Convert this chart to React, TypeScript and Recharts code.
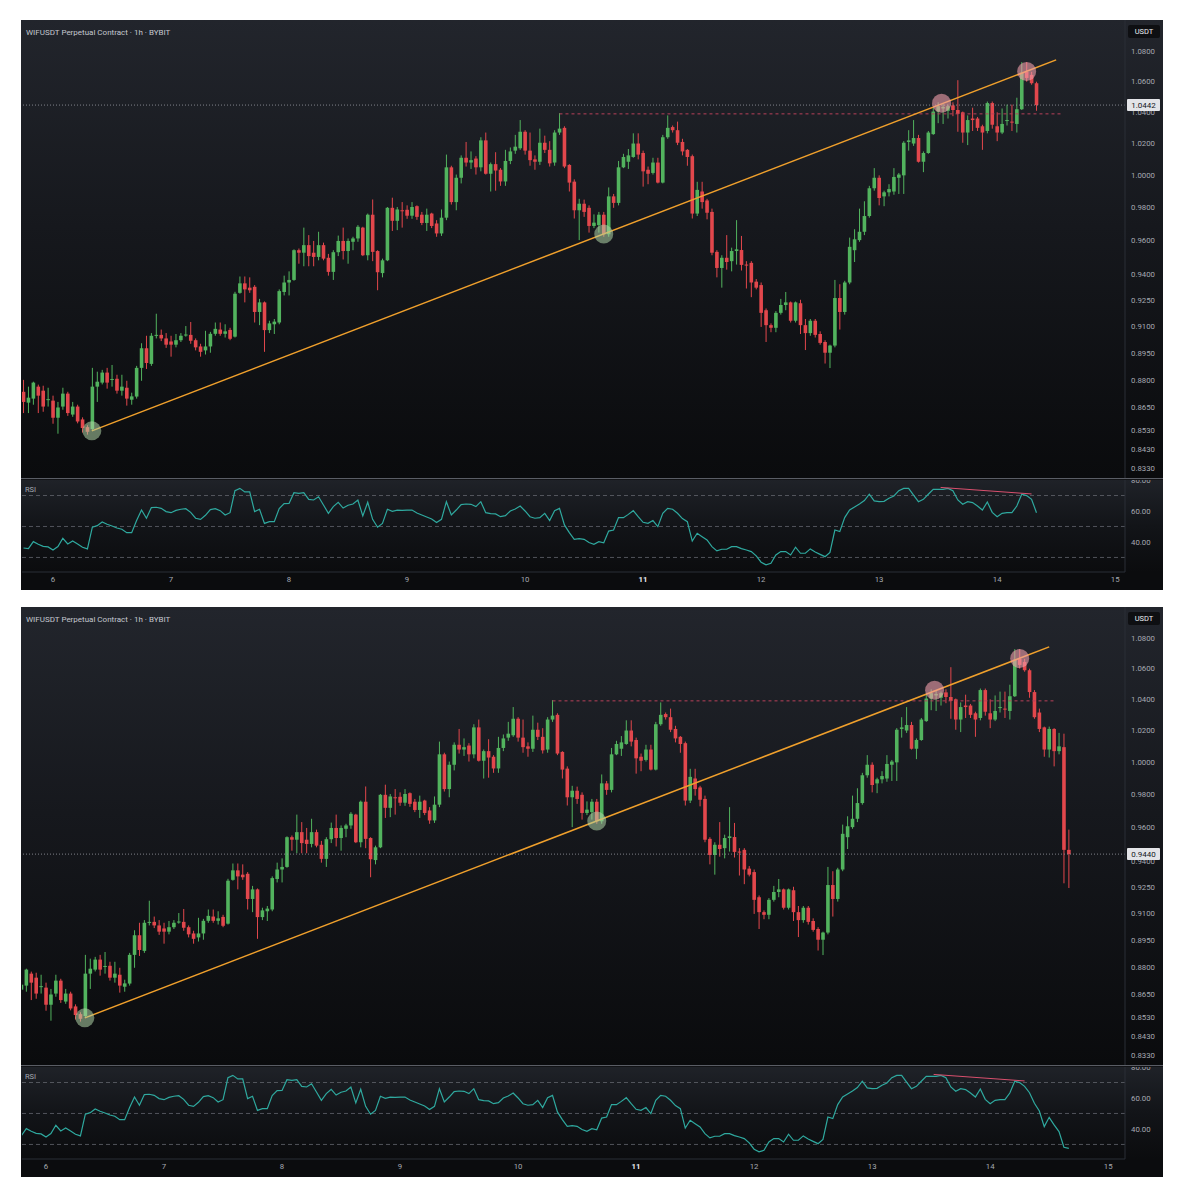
import React from 'react';
import { ComposedChart, Bar, XAxis, YAxis, ReferenceLine, ReferenceDot, LineChart, Line } from 'recharts';

// hourly candles [open, high, low, close], index 0 = day 5 18:00
const ohlc: [number, number, number, number][] = [
  [0.8735, 0.880, 0.862, 0.868], [0.8676, 0.8763, 0.862, 0.8703], [0.8698, 0.879, 0.8665, 0.8785], [0.8763, 0.8774, 0.862, 0.8714], [0.8741, 0.8768, 0.8627, 0.8655],
  [0.869, 0.8757, 0.8655, 0.8695], [0.8687, 0.8714, 0.8563, 0.8595], [0.8595, 0.868, 0.851, 0.865], [0.8655, 0.8757, 0.8638, 0.8725], [0.8725, 0.8735, 0.8605, 0.862],
  [0.8612, 0.868, 0.860, 0.8655], [0.8655, 0.8665, 0.8565, 0.8575], [0.8586, 0.8597, 0.8516, 0.854], [0.8545, 0.8555, 0.8505, 0.852], [0.8535, 0.8866, 0.8525, 0.8763],
  [0.8763, 0.8845, 0.868, 0.879], [0.8785, 0.8855, 0.8775, 0.884], [0.884, 0.8866, 0.8752, 0.8785], [0.880, 0.8882, 0.8763, 0.8805], [0.8806, 0.8828, 0.8725, 0.8741],
  [0.8741, 0.8828, 0.8714, 0.8763], [0.8757, 0.8795, 0.866, 0.8698], [0.8692, 0.873, 0.8665, 0.871], [0.8709, 0.8877, 0.8698, 0.8866], [0.8866, 0.9003, 0.8795, 0.8975],
  [0.8975, 0.9045, 0.886, 0.8893], [0.8888, 0.906, 0.8877, 0.9045], [0.9045, 0.917, 0.903, 0.905], [0.905, 0.908, 0.9015, 0.903], [0.903, 0.906, 0.8977, 0.8995],
  [0.9013, 0.9045, 0.8928, 0.8995], [0.8995, 0.9055, 0.898, 0.902], [0.902, 0.906, 0.901, 0.9045], [0.905, 0.91, 0.904, 0.9052], [0.905, 0.9123, 0.900, 0.9017],
  [0.902, 0.903, 0.8963, 0.898], [0.8985, 0.900, 0.8928, 0.8955], [0.8963, 0.9073, 0.894, 0.8985], [0.8985, 0.9067, 0.895, 0.9056], [0.9056, 0.912, 0.9045, 0.9084],
  [0.908, 0.912, 0.9045, 0.9056], [0.9056, 0.911, 0.9035, 0.907], [0.9078, 0.909, 0.902, 0.9028], [0.904, 0.9296, 0.9035, 0.9285], [0.929, 0.9385, 0.9285, 0.9345],
  [0.9345, 0.9385, 0.9235, 0.931], [0.932, 0.938, 0.929, 0.9305], [0.9325, 0.9335, 0.912, 0.918], [0.918, 0.9255, 0.9105, 0.9235], [0.9235, 0.924, 0.8955, 0.9077],
  [0.9077, 0.913, 0.906, 0.9115], [0.911, 0.914, 0.9055, 0.9125], [0.912, 0.931, 0.911, 0.930], [0.9295, 0.939, 0.9275, 0.935], [0.935, 0.9415, 0.9275, 0.9365],
  [0.9365, 0.9545, 0.936, 0.954], [0.954, 0.955, 0.946, 0.9525], [0.9525, 0.9675, 0.9445, 0.957], [0.957, 0.963, 0.9445, 0.9505], [0.9525, 0.9595, 0.9445, 0.950],
  [0.950, 0.965, 0.948, 0.957], [0.957, 0.9585, 0.948, 0.949], [0.9495, 0.9518, 0.939, 0.9412], [0.9412, 0.954, 0.9365, 0.9528], [0.9528, 0.9627, 0.9505, 0.9595],
  [0.9595, 0.9675, 0.9485, 0.9535], [0.9535, 0.961, 0.946, 0.9595], [0.959, 0.962, 0.954, 0.961], [0.961, 0.969, 0.959, 0.968], [0.9675, 0.968, 0.9505, 0.951],
  [0.951, 0.976, 0.948, 0.9753], [0.9753, 0.9846, 0.9475, 0.953], [0.9535, 0.954, 0.9305, 0.941], [0.9405, 0.949, 0.938, 0.948], [0.948, 0.980, 0.9475, 0.9795],
  [0.9795, 0.9857, 0.9655, 0.9716], [0.9716, 0.980, 0.966, 0.9785], [0.978, 0.983, 0.9675, 0.9775], [0.9783, 0.981, 0.9728, 0.9747], [0.9747, 0.983, 0.9728, 0.980],
  [0.9805, 0.981, 0.9722, 0.974], [0.9753, 0.977, 0.969, 0.9703], [0.9703, 0.979, 0.9655, 0.9753], [0.976, 0.9765, 0.9672, 0.9685], [0.970, 0.972, 0.962, 0.964],
  [0.964, 0.9785, 0.9625, 0.9735], [0.9735, 1.0125, 0.972, 1.0045], [1.0045, 1.0055, 0.9815, 0.983], [0.983, 1.0, 0.978, 0.998], [0.998, 1.012, 0.9945, 1.0105],
  [1.0105, 1.0205, 1.005, 1.0075], [1.0075, 1.0145, 1.0035, 1.009], [1.01, 1.0115, 1.0, 1.0045], [1.0045, 1.0235, 1.002, 1.0215], [1.0215, 1.0265, 1.0, 1.0005],
  [1.0005, 1.0075, 0.9895, 1.0065], [1.0065, 1.014, 0.99, 1.0025], [1.003, 1.004, 0.993, 0.9957], [0.9957, 1.0155, 0.993, 1.0085], [1.0085, 1.017, 1.0065, 1.0145],
  [1.015, 1.025, 1.013, 1.0175], [1.0165, 1.0345, 1.0155, 1.027], [1.027, 1.028, 1.0125, 1.015], [1.015, 1.0265, 1.0055, 1.009], [1.0095, 1.012, 1.003, 1.008],
  [1.008, 1.029, 1.006, 1.02], [1.02, 1.0245, 1.0135, 1.0155], [1.0155, 1.021, 1.005, 1.007], [1.0075, 1.028, 1.0055, 1.0265], [1.0265, 1.039, 1.025, 1.029],
  [1.0295, 1.0305, 1.004, 1.005], [1.006, 1.0065, 0.9895, 0.995], [0.9956, 0.997, 0.973, 0.978], [0.978, 0.985, 0.96, 0.982], [0.982, 0.9845, 0.974, 0.977],
  [0.9795, 0.981, 0.9645, 0.9685], [0.9685, 0.9755, 0.9672, 0.9705], [0.969, 0.977, 0.9645, 0.9753], [0.9753, 0.977, 0.962, 0.9635], [0.9635, 0.992, 0.962, 0.9865],
  [0.9865, 0.988, 0.9795, 0.9825], [0.9825, 1.0085, 0.981, 1.0045], [1.0045, 1.013, 1.004, 1.011], [1.008, 1.016, 1.0035, 1.012], [1.011, 1.026, 1.0105, 1.0195],
  [1.0195, 1.026, 1.0095, 1.0125], [1.0135, 1.015, 0.9925, 1.002], [1.003, 1.005, 0.994, 1.0005], [1.001, 1.0105, 1.0, 1.0075], [1.0075, 1.0105, 0.9945, 0.995],
  [0.995, 1.025, 0.9945, 1.0235], [1.0235, 1.0375, 1.0225, 1.0295], [1.03, 1.031, 1.0265, 1.028], [1.028, 1.0335, 1.0185, 1.02], [1.0205, 1.0225, 1.012, 1.0145],
  [1.0155, 1.016, 1.0055, 1.011], [1.0115, 1.0125, 0.973, 0.976], [0.976, 0.9955, 0.9745, 0.9905], [0.9895, 0.9955, 0.979, 0.983], [0.984, 0.985, 0.9725, 0.9765],
  [0.977, 0.979, 0.951, 0.9525], [0.953, 0.954, 0.938, 0.9435], [0.9435, 0.951, 0.932, 0.9495], [0.9495, 0.963, 0.9425, 0.947], [0.9475, 0.9555, 0.9415, 0.9535],
  [0.9535, 0.972, 0.9455, 0.9545], [0.9541, 0.9625, 0.942, 0.9453], [0.9455, 0.9475, 0.9315, 0.945], [0.9465, 0.9475, 0.9265, 0.935], [0.9355, 0.937, 0.931, 0.932],
  [0.9335, 0.935, 0.9095, 0.9175], [0.919, 0.92, 0.901, 0.9105], [0.9105, 0.9115, 0.9065, 0.909], [0.909, 0.9185, 0.9065, 0.9175], [0.9175, 0.9255, 0.9165, 0.922],
  [0.922, 0.9295, 0.919, 0.9235], [0.9235, 0.924, 0.912, 0.913], [0.913, 0.924, 0.912, 0.9235], [0.923, 0.925, 0.9055, 0.9105], [0.9105, 0.914, 0.8965, 0.906],
  [0.906, 0.914, 0.9045, 0.913], [0.913, 0.914, 0.9035, 0.905], [0.9055, 0.907, 0.8995, 0.9005], [0.901, 0.902, 0.889, 0.895], [0.895, 0.8995, 0.8865, 0.899],
  [0.899, 0.9365, 0.898, 0.926], [0.926, 0.934, 0.908, 0.918], [0.918, 0.936, 0.9165, 0.935], [0.935, 0.9615, 0.934, 0.956], [0.954, 0.9665, 0.947, 0.9605],
  [0.96, 0.979, 0.959, 0.965], [0.965, 0.9835, 0.963, 0.9745], [0.9745, 0.993, 0.9735, 0.9915], [0.9915, 1.004, 0.99, 0.998], [0.998, 0.9995, 0.981, 0.9855],
  [0.9865, 0.99, 0.9805, 0.989], [0.989, 0.994, 0.9865, 0.991], [0.9895, 1.004, 0.9875, 0.9985], [0.998, 1.001, 0.988, 1.0], [0.9995, 1.021, 0.988, 1.02],
  [1.0205, 1.028, 1.015, 1.0215], [1.0195, 1.0345, 1.018, 1.023], [1.023, 1.025, 1.0075, 1.008], [1.008, 1.0145, 1.0015, 1.0135], [1.0135, 1.0275, 1.013, 1.0265],
  [1.0255, 1.0425, 1.025, 1.04], [1.04, 1.046, 1.0325, 1.0435], [1.042, 1.045, 1.032, 1.043], [1.0405, 1.0445, 1.0355, 1.0435], [1.044, 1.046, 1.037, 1.041],
  [1.041, 1.0605, 1.027, 1.0385], [1.0395, 1.04, 1.02, 1.0265], [1.0265, 1.0375, 1.0185, 1.0345], [1.0355, 1.0425, 1.0275, 1.0345], [1.0355, 1.0365, 1.0275, 1.0295],
  [1.0305, 1.0315, 1.0155, 1.0265], [1.0275, 1.0465, 1.026, 1.0455], [1.0455, 1.0465, 1.029, 1.0315], [1.0305, 1.0395, 1.021, 1.0265], [1.0265, 1.042, 1.0255, 1.032],
  [1.0345, 1.0445, 1.031, 1.0345], [1.0335, 1.0445, 1.0275, 1.033], [1.032, 1.049, 1.0265, 1.0415], [1.0415, 1.0725, 1.041, 1.0655], [1.066, 1.0725, 1.0595, 1.062],
  [1.064, 1.066, 1.0575, 1.0585], [1.0585, 1.0595, 1.0405, 1.0442], [1.0442, 1.0455, 1.027, 1.028], [1.031, 1.0335, 1.0185, 1.0205], [1.0215, 1.022, 1.003, 1.0075],
  [1.0075, 1.022, 1.0025, 1.0205], [1.0205, 1.021, 0.997, 1.0065], [1.0065, 1.018, 1.0045, 1.0095], [1.009, 1.0175, 0.927, 0.9465], [0.9465, 0.9585, 0.9243, 0.944],
];

const rsiValues: number[] = [
  36.1, 35.7, 40.2, 38.5, 37.2, 36.8, 34.8, 37.0, 42.4, 38.7,
  40.6, 38.7, 36.6, 35.5, 49.5, 50.5, 52.9, 51.4, 50.3, 49.0,
  48.2, 46.0, 46.0, 53.8, 60.6, 55.3, 62.2, 62.4, 61.7, 59.6,
  58.9, 60.4, 61.1, 61.5, 59.1, 55.3, 54.6, 57.2, 60.9, 61.5,
  60.2, 57.4, 58.9, 73.1, 74.6, 72.3, 72.3, 59.6, 61.1, 52.0,
  53.1, 53.1, 61.5, 64.7, 64.9, 71.8, 71.4, 71.8, 67.5, 67.1,
  69.2, 63.9, 58.5, 62.8, 65.6, 61.9, 63.7, 64.5, 67.1, 56.8,
  65.6, 54.6, 49.5, 52.0, 61.1, 59.8, 60.6, 60.4, 60.6, 60.6,
  58.7, 57.4, 56.1, 54.8, 52.5, 54.6, 66.0, 57.4, 60.6, 64.1,
  64.5, 64.3, 62.8, 66.0, 58.9, 58.3, 58.1, 56.3, 57.0, 60.0,
  61.3, 63.2, 60.0, 56.3, 55.3, 55.7, 58.5, 53.8, 60.2, 61.7,
  51.0, 46.0, 41.7, 42.2, 41.7, 39.6, 38.5, 40.2, 39.5, 47.0,
  47.7, 55.7, 55.7, 57.8, 60.2, 56.3, 52.7, 52.0, 53.8, 49.9,
  58.5, 61.7, 61.1, 58.5, 55.1, 53.1, 40.6, 45.6, 43.4, 41.3,
  37.0, 34.2, 35.3, 35.3, 37.0, 37.0, 35.7, 34.8, 33.8, 31.0,
  26.9, 25.2, 26.2, 31.6, 33.8, 33.8, 31.6, 36.6, 32.7, 32.7,
  35.5, 33.5, 32.0, 30.5, 33.3, 47.7, 46.7, 55.7, 60.6, 62.6,
  64.5, 66.7, 70.8, 66.5, 66.0, 66.2, 68.2, 69.7, 73.1, 74.6,
  74.6, 70.3, 66.0, 67.5, 70.8, 74.0, 74.0, 74.0, 74.6, 73.1,
  67.1, 64.3, 66.0, 65.4, 63.2, 60.6, 65.8, 59.1, 56.3, 58.5,
  58.9, 58.9, 63.2, 70.8, 69.9, 67.5, 63.4,
  56.6, 51.6, 41.5, 47.5, 42.6, 38.3, 28.2, 27.5,
];
const rsiTopSnapshotLast = 58.9;

const topCandleCount = 207;
const bottomCandleCount = 215;
const topLastPrice = 1.0442;
const bottomLastPrice = 0.944;

const priceTicks = [1.08, 1.06, 1.04, 1.02, 1.0, 0.98, 0.96, 0.94, 0.925, 0.91, 0.895, 0.88, 0.865, 0.853, 0.843, 0.833];
const priceDomain: [number, number] = [0.82785, 1.101];
const rsiTicks = [40, 60, 80];
const rsiLevels = [70, 50, 30];
const rsiDomain: [number, number] = [20.6, 80];
const dayTickIndex = [6, 30, 54, 78, 102, 126, 150, 174, 198, 222];
const dayLabels = ['6', '7', '8', '9', '10', '11', '12', '13', '14', '15'];
const boldDay = '11';

const trendLine = [{ x: 13.9, y: 0.8525 }, { x: 210, y: 1.074 }];
const supportTouches = [{ x: 13.9, y: 0.8525 }, { x: 118, y: 0.9636 }];
const resistanceTouches = [{ x: 186.7, y: 1.0454 }, { x: 204, y: 1.0662 }];
const resistanceLevel = [{ x: 109, y: 1.0385 }, { x: 211, y: 1.0385 }];
const rsiDivergence = [{ x: 186.5, y: 75.2 }, { x: 205, y: 71 }];

const GREEN = '#52b35e';
const RED = '#e2474c';
const W = 1142;
const PRICE_H = 458;
const RSI_H = 92;
const TIME_H = 18;
const AXIS_W = 38;
const FONT = "Roboto, 'Noto Sans', 'DejaVu Sans', sans-serif";

const Candle = (props: any) => {
  const { x, y, width, height, payload } = props;
  if (!payload || x == null || y == null) return null;
  const { o, h, l, c } = payload;
  const top = Math.min(y, y + height);
  const bot = Math.max(y, y + height);
  const span = Math.log(h) - Math.log(l);
  const py = (v: number) => (span === 0 ? top : top + ((Math.log(h) - Math.log(v)) / span) * (bot - top));
  const cx = x + width / 2;
  const color = c >= o ? GREEN : RED;
  const yo = py(o);
  const yc = py(c);
  const bTop = Math.min(yo, yc);
  const bH = Math.max(1, Math.abs(yo - yc));
  return (
    <g>
      <line x1={cx} x2={cx} y1={top} y2={bot} stroke={color} strokeWidth={1} />
      <rect x={cx - 1.8} y={bTop} width={3.6} height={bH} fill={color} />
    </g>
  );
};

const makePriceTick = (lastPrice: number) => (props: any) => {
  const { x, y, payload } = props;
  const v = payload.value as number;
  if (Math.abs(v - lastPrice) < 1e-9) {
    return (
      <g>
        <rect x={x - 4} y={y - 6} width={33} height={12} fill="#e3e4e8" rx={1} />
        <text x={x + 12.5} y={y} dy={3} textAnchor="middle" fontSize={8} fill="#131722" fontFamily={FONT}>
          {v.toFixed(4)}
        </text>
      </g>
    );
  }
  return (
    <text x={x} y={y} dy={3} textAnchor="start" fontSize={7.8} fill="#a6a9b1" fontFamily={FONT}>
      {v.toFixed(4)}
    </text>
  );
};

const RsiTick = (props: any) => {
  const { x, y, payload } = props;
  return (
    <text x={x} y={y} dy={3} textAnchor="start" fontSize={7.8} fill="#a6a9b1" fontFamily={FONT}>
      {(payload.value as number).toFixed(2)}
    </text>
  );
};

const TimeTick = (props: any) => {
  const { x, y, payload } = props;
  const idx = dayTickIndex.indexOf(payload.value);
  const label = dayLabels[idx] ?? '';
  const bold = label === boldDay;
  return (
    <text x={x} y={y} dy={6} textAnchor="middle" fontSize={7.8} fill={bold ? '#eceef2' : '#a6a9b1'} fontWeight={bold ? 700 : 400} fontFamily={FONT}>
      {label}
    </text>
  );
};

function Panel({ top, count, xDomain, lastPrice, rsiData }: { top: number; count: number; xDomain: [number, number]; lastPrice: number; rsiData: number[] }) {
  const candles = ohlc.slice(0, count).map(([o, h, l, c], i) => {
    const hi = Math.max(h, o, c);
    const lo = Math.min(l, o, c);
    return { t: i, o, h: hi, l: lo, c, range: [lo, hi] };
  });
  const rsiRows = rsiData.map((v, i) => ({ t: i, v }));
  return (
    <div style={{ position: 'absolute', left: 21, top, width: W, height: 570, background: '#0c0d10', overflow: 'hidden' }}>
      <div style={{ position: 'absolute', left: 0, top: 0, width: W, height: PRICE_H, background: 'linear-gradient(to bottom, #22252c 0%, #16181d 45%, #0a0b0d 100%)' }} />
      <div style={{ position: 'absolute', left: 0, top: PRICE_H, width: W, height: 1, background: '#5a5d65' }} />
      <div style={{ position: 'absolute', left: 0, top: PRICE_H + 1, width: W, height: 1, background: '#121316' }} />
      <div style={{ position: 'absolute', left: 0, top: PRICE_H + 2, width: W, height: RSI_H, background: 'linear-gradient(to bottom, #1f2228 0%, #121418 50%, #0b0c0e 100%)' }} />
      <div style={{ position: 'absolute', left: 0, top: PRICE_H + 2 + RSI_H, width: W, height: TIME_H, background: '#0b0c0e' }} />
      <div style={{ position: 'absolute', left: 0, top: 0 }}>
        <ComposedChart width={W} height={PRICE_H} data={candles} margin={{ top: 0, right: 0, bottom: 0, left: 1 }}>
          <XAxis dataKey="t" type="number" domain={xDomain} allowDataOverflow hide />
          <YAxis
            orientation="right"
            type="number"
            scale="log"
            domain={priceDomain}
            allowDataOverflow
            ticks={[...priceTicks, lastPrice]}
            interval={0}
            width={AXIS_W}
            tickLine={false}
            tickSize={0}
            tickMargin={6}
            axisLine={{ stroke: '#2b2e36' }}
            tick={makePriceTick(lastPrice)}
          />
          <ReferenceLine y={lastPrice} stroke="#9a9da5" strokeDasharray="1 2" strokeWidth={0.8} />
          <ReferenceLine segment={resistanceLevel} stroke="#b8405a" strokeDasharray="3 3" strokeWidth={1} />
          <Bar dataKey="range" shape={Candle} barSize={3} isAnimationActive={false} />
          <ReferenceLine segment={trendLine} stroke="#f0a02c" strokeWidth={1.5} />
          {supportTouches.map((p, i) => (
            <ReferenceDot key={'s' + i} x={p.x} y={p.y} r={9.5} fill="rgba(176, 214, 168, 0.55)" stroke="none" />
          ))}
          {resistanceTouches.map((p, i) => (
            <ReferenceDot key={'r' + i} x={p.x} y={p.y} r={9.5} fill="rgba(242, 160, 172, 0.6)" stroke="none" />
          ))}
        </ComposedChart>
      </div>
      <div style={{ position: 'absolute', left: 5, top: 8, fontSize: 8, lineHeight: '9px', color: '#c4c7cf', fontFamily: FONT, whiteSpace: 'nowrap' }}>
        WIFUSDT Perpetual Contract · 1h · BYBIT
      </div>
      <div style={{ position: 'absolute', left: 1107, top: 5, width: 32, height: 13, background: '#0e0f12', color: '#eceef2', fontSize: 7.5, lineHeight: '13px', textAlign: 'center', fontFamily: FONT, borderRadius: 2 }}>
        USDT
      </div>
      <div style={{ position: 'absolute', left: 0, top: PRICE_H + 2 }}>
        <LineChart width={W} height={RSI_H + TIME_H} data={rsiRows} margin={{ top: 0, right: 0, bottom: 0, left: 1 }}>
          <XAxis
            dataKey="t"
            type="number"
            domain={xDomain}
            allowDataOverflow
            ticks={dayTickIndex}
            interval={0}
            height={TIME_H}
            tickLine={false}
            tickSize={0}
            tickMargin={4}
            axisLine={{ stroke: '#2b2e36' }}
            tick={TimeTick}
          />
          <YAxis
            orientation="right"
            type="number"
            domain={rsiDomain}
            allowDataOverflow
            ticks={rsiTicks}
            interval={0}
            width={AXIS_W}
            tickLine={false}
            tickSize={0}
            tickMargin={6}
            axisLine={{ stroke: '#2b2e36' }}
            tick={RsiTick}
          />
          {rsiLevels.map((lv) => (
            <ReferenceLine key={lv} y={lv} stroke="#62656d" strokeDasharray="4 3" strokeWidth={0.8} />
          ))}
          <Line type="linear" dataKey="v" stroke="#2fa99f" strokeWidth={1.2} dot={false} isAnimationActive={false} />
          <ReferenceLine segment={rsiDivergence} stroke="#d9506e" strokeWidth={1} />
        </LineChart>
      </div>
      <div style={{ position: 'absolute', left: 4, top: PRICE_H + 7, fontSize: 7.5, color: '#a6a9b1', fontFamily: FONT }}>RSI</div>
    </div>
  );
}

export default function App() {
  const topRsi = rsiValues.slice(0, topCandleCount);
  topRsi[topCandleCount - 1] = rsiTopSnapshotLast;
  const bottomRsi = rsiValues.slice(0, bottomCandleCount);
  return (
    <div style={{ position: 'absolute', left: 0, top: 0, width: 1187, height: 1200, background: '#ffffff', fontFamily: FONT }}>
      <Panel top={20} count={topCandleCount} xDomain={[-0.305, 224.0]} lastPrice={topLastPrice} rsiData={topRsi} />
      <Panel top={607} count={bottomCandleCount} xDomain={[1.12, 225.42]} lastPrice={bottomLastPrice} rsiData={bottomRsi} />
    </div>
  );
}
